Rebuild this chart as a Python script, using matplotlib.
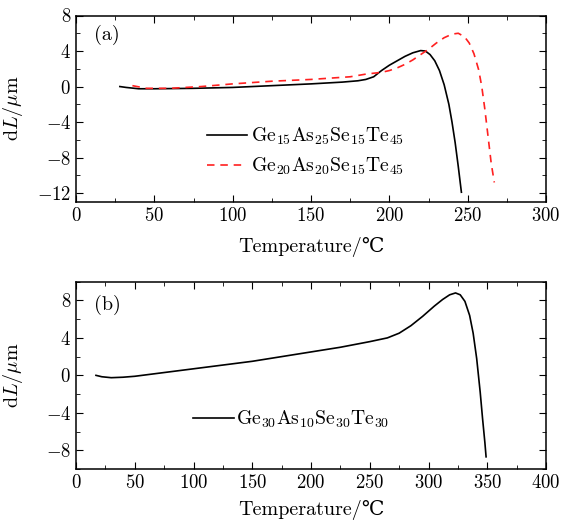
import matplotlib
matplotlib.use("Agg")
import matplotlib.pyplot as plt
from matplotlib.ticker import MultipleLocator

plt.rcParams["font.family"] = ["cmr10", "DejaVu Serif"]
plt.rcParams["mathtext.fontset"] = "cm"
plt.rcParams["axes.formatter.use_mathtext"] = True
plt.rcParams["font.size"] = 14

# (a) two glasses
t_a1 = [28, 32, 40, 50, 75, 100, 125, 150, 170, 180, 185, 190, 195, 200, 205, 210,
        215, 220, 223, 226, 229, 232, 235, 238, 240, 242, 244, 246]
dl_a1 = [0.0, -0.1, -0.25, -0.25, -0.2, -0.1, 0.1, 0.3, 0.5, 0.65, 0.8, 1.1, 1.8, 2.4,
         2.9, 3.4, 3.8, 4.05, 4.0, 3.6, 2.9, 1.8, 0.2, -2.0, -4.0, -6.3, -9.0, -11.9]

t_a2 = [36, 45, 60, 80, 100, 125, 150, 175, 185, 195, 200, 205, 210, 215, 220, 225,
        230, 235, 240, 244, 248, 251, 254, 257, 259, 261, 263, 265, 267]
dl_a2 = [0.1, -0.2, -0.2, 0.0, 0.3, 0.6, 0.8, 1.1, 1.4, 1.6, 1.8, 2.1, 2.5, 3.0, 3.6,
         4.2, 4.9, 5.5, 5.9, 6.0, 5.6, 4.9, 3.7, 1.9, 0.0, -2.6, -5.6, -8.6, -10.8]

# (b) single glass
t_b = [17, 22, 30, 40, 50, 75, 100, 125, 150, 175, 200, 225, 250, 265, 275, 285, 295,
       305, 312, 318, 323, 327, 331, 335, 338, 341, 344, 346, 348, 349]
dl_b = [0.0, -0.15, -0.25, -0.2, -0.1, 0.3, 0.7, 1.1, 1.5, 2.0, 2.5, 3.0, 3.6, 4.0,
        4.5, 5.3, 6.3, 7.4, 8.1, 8.6, 8.8, 8.6, 7.9, 6.4, 4.5, 1.8, -1.8, -4.6, -7.2, -8.7]

fig = plt.figure(figsize=(5.67, 5.21), dpi=100)
ax1 = fig.add_axes([76 / 567, 1 - 202 / 521, 470 / 567, 186.5 / 521])
ax2 = fig.add_axes([76 / 567, 1 - 469 / 521, 470 / 567, 187.3 / 521])

ax1.plot(t_a1, dl_a1, color="black", lw=1.2, label="Ge$_{15}$As$_{25}$Se$_{15}$Te$_{45}$")
ax1.plot(t_a2, dl_a2, color="#ff2020", lw=1.2, ls=(0, (4.5, 3.5)),
         label="Ge$_{20}$As$_{20}$Se$_{15}$Te$_{45}$")
ax1.set_xlim(0, 300)
ax1.set_ylim(-13, 8)
ax1.xaxis.set_major_locator(MultipleLocator(50))
ax1.xaxis.set_minor_locator(MultipleLocator(25))
ax1.yaxis.set_major_locator(MultipleLocator(4))
ax1.yaxis.set_minor_locator(MultipleLocator(2))
ax1.text(0.038, 0.895, "(a)", transform=ax1.transAxes, va="center", fontsize=14.5)
ax1.legend(loc="upper left", bbox_to_anchor=(0.258, 0.463), frameon=False, borderpad=0,
           handlelength=2.0, handletextpad=0.2, fontsize=14.2, labelspacing=0.45)
ax1.set_xlabel("Temperature/℃", fontsize=14.5, labelpad=8.5)

ax2.plot(t_b, dl_b, color="black", lw=1.2, label="Ge$_{30}$As$_{10}$Se$_{30}$Te$_{30}$")
ax2.set_xlim(0, 400)
ax2.set_ylim(-10, 10)
ax2.xaxis.set_major_locator(MultipleLocator(50))
ax2.xaxis.set_minor_locator(MultipleLocator(25))
ax2.yaxis.set_major_locator(MultipleLocator(4))
ax2.yaxis.set_minor_locator(MultipleLocator(2))
ax2.text(0.038, 0.876, "(b)", transform=ax2.transAxes, va="center", fontsize=14.5)
ax2.legend(loc="upper left", bbox_to_anchor=(0.228, 0.373), frameon=False, borderpad=0,
           handlelength=2.1, handletextpad=0.1, fontsize=14.2)
ax2.set_xlabel("Temperature/℃", fontsize=14.5, labelpad=6)

for ax in (ax1, ax2):
    ax.tick_params(which="both", direction="in", top=True, right=True, labelsize=13.5)
    ax.tick_params(which="major", length=5)
    ax.tick_params(which="minor", length=3)
    ax.set_ylabel(r"d$L$/$\mathrm{\mu}$m", fontsize=14.5)
    ax.yaxis.set_label_coords(-0.108, 0.5)
    for s in ax.spines.values():
        s.set_linewidth(1.1)

plt.savefig("out.png", dpi=100)
